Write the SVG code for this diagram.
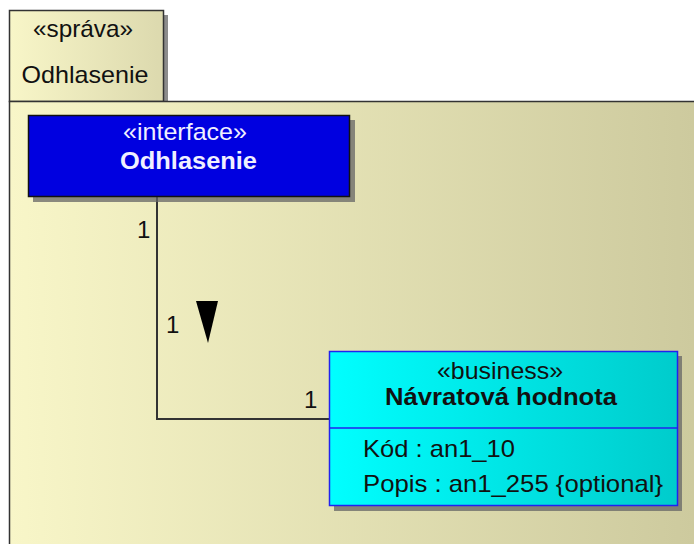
<svg xmlns="http://www.w3.org/2000/svg" width="694" height="544" viewBox="0 0 694 544">
<defs>
<linearGradient id="pkg" x1="0" y1="0" x2="1" y2="0"><stop offset="0" stop-color="#f8f6c8"/><stop offset="1" stop-color="#ccc99d"/></linearGradient>
<linearGradient id="tab" x1="0" y1="0" x2="1" y2="0"><stop offset="0" stop-color="#f8f6c8"/><stop offset="1" stop-color="#dcd9ae"/></linearGradient>
<linearGradient id="biz" x1="0" y1="0" x2="1" y2="0"><stop offset="0" stop-color="#00ffff"/><stop offset="1" stop-color="#00cccc"/></linearGradient>
<style>
text{font-family:"Liberation Sans",Arial,sans-serif;font-size:24px;fill:#111}
.c{text-anchor:middle}
.b{font-weight:bold}
.w{fill:#f0f0ff}
.shadow{fill:#666666;opacity:0.75}
</style>
</defs>
<g id="package">
<rect class="shadow" x="14" y="15" width="154" height="90"/>
<rect x="9.5" y="10.5" width="154" height="91" fill="url(#tab)" stroke="#333" stroke-width="1.5"/>
<text class="c" x="83" y="37" textLength="100" lengthAdjust="spacingAndGlyphs">«správa»</text>
<text class="c" x="85" y="83" textLength="127" lengthAdjust="spacingAndGlyphs">Odhlasenie</text>
<rect x="9.5" y="101.5" width="700" height="460" fill="url(#pkg)" stroke="#333" stroke-width="1.5"/>
</g>
<g id="connectors" stroke="#333" stroke-width="2" fill="none">
<polyline points="157,197 157,419 330,419"/>
</g>
<g id="labels">
<text x="137" y="238">1</text>
<text x="166" y="333">1</text>
<text x="304" y="408">1</text>
<polygon points="196,301 218,301 208,343" fill="#000"/>
</g>
<g id="interface">
<rect class="shadow" x="33" y="120" width="322" height="82"/>
<rect x="28.5" y="115.5" width="321" height="81" fill="#0000e0" stroke="#111" stroke-width="1.5"/>
<text class="c w" x="185" y="140" textLength="124" lengthAdjust="spacingAndGlyphs">«interface»</text>
<text class="c w b" x="188.5" y="169" textLength="137" lengthAdjust="spacingAndGlyphs">Odhlasenie</text>
</g>
<g id="business">
<rect class="shadow" x="334" y="356" width="348" height="155"/>
<rect x="329.5" y="351.5" width="348" height="154" fill="url(#biz)" stroke="#2222ee" stroke-width="1.5"/>
<line x1="329.5" y1="428" x2="677.5" y2="428" stroke="#2222ee" stroke-width="1.5"/>
<text class="c" x="500" y="379" textLength="126" lengthAdjust="spacingAndGlyphs">«business»</text>
<text class="c b" x="501" y="405" textLength="232" lengthAdjust="spacingAndGlyphs">Návratová hodnota</text>
<text x="363" y="457" textLength="152" lengthAdjust="spacingAndGlyphs">Kód : an1_10</text>
<text x="363" y="492" textLength="300" lengthAdjust="spacingAndGlyphs">Popis : an1_255 {optional}</text>
</g>
</svg>
